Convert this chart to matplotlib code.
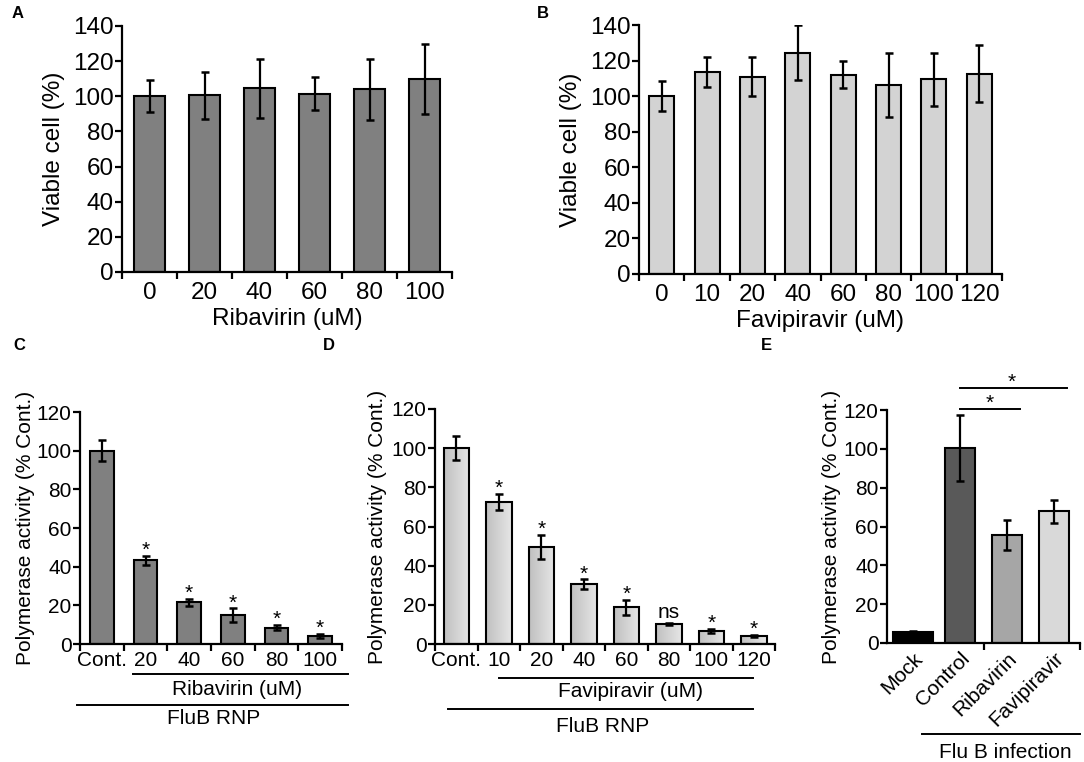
import numpy as np
import matplotlib
matplotlib.use("Agg")
import matplotlib.pyplot as plt
from matplotlib.colors import LinearSegmentedColormap

plt.rcParams['font.family'] = ['Liberation Sans', 'DejaVu Sans']

# Data
rib_conc = ['0', '20', '40', '60', '80', '100']
rib_viab = [100, 100.5, 104.5, 101.5, 104, 110]
rib_viab_err = [9, 13.5, 17, 9.5, 17.5, 20]

fav_conc = ['0', '10', '20', '40', '60', '80', '100', '120']
fav_viab = [100, 113.5, 111, 124.5, 112, 106, 109.5, 112.5]
fav_viab_err = [8.5, 8.5, 11, 15.5, 7.5, 18, 15, 16]

rib_pol_labels = ['Cont.', '20', '40', '60', '80', '100']
rib_pol = [100, 43.3, 21.5, 14.8, 8.5, 4.2]
rib_pol_err = [5.5, 2.2, 1.9, 3.6, 1.3, 0.9]
rib_sig = ['', '*', '*', '*', '*', '*']

fav_pol_labels = ['Cont.', '10', '20', '40', '60', '80', '100', '120']
fav_pol = [100.2, 72.5, 49.7, 30.6, 18.7, 10.4, 6.6, 4.0]
fav_pol_err = [6, 4, 6.2, 2.4, 3.9, 0.5, 1.1, 0.5]
fav_sig = ['', '*', '*', '*', '*', 'ns', '*', '*']

inf_groups = ['Mock', 'Control', 'Ribavirin', 'Favipiravir']
inf_pol = [5.8, 100.2, 55.5, 67.8]
inf_err = [0.5, 17, 7.8, 6]
inf_colors = ['#000000', '#595959', '#a6a6a6', '#d9d9d9']

W, H = 1084, 762
FS_TOP = 17.5
FS_BOT = 15
fig = plt.figure(figsize=(W / 100, H / 100), dpi=100)


def px_axes(left, top, right, bottom):
    return fig.add_axes([left / W, 1 - bottom / H, (right - left) / W, (bottom - top) / H])


def style_axes(ax, n, labels, ymax, ystep, fs, pad=7):
    for s in ['top', 'right']:
        ax.spines[s].set_visible(False)
    for s in ['left', 'bottom']:
        ax.spines[s].set_linewidth(1.6)
    ax.set_xlim(-0.5, n - 0.5)
    ax.set_ylim(0, ymax)
    ax.set_yticks(np.arange(0, ymax + 1, ystep))
    ax.tick_params(axis='y', length=5, width=1.6, pad=1, labelsize=fs)
    # ticks between the bars, labels under the bars
    ax.set_xticks(np.arange(n + 1) - 0.5)
    ax.set_xticklabels([])
    ax.tick_params(axis='x', which='major', length=5, width=1.6)
    ax.set_xticks(np.arange(n), minor=True)
    ax.set_xticklabels(labels, minor=True, fontsize=fs)
    ax.tick_params(axis='x', which='minor', length=0, pad=pad)


def bars(ax, vals, errs, color, width):
    x = np.arange(len(vals))
    b = ax.bar(x, vals, width=width, color=color, edgecolor='black', linewidth=1.5, zorder=2)
    ax.errorbar(x, vals, yerr=errs, fmt='none', ecolor='black', elinewidth=1.6,
                capsize=2.8, capthick=1.8, zorder=3)
    return b


def sig_marks(ax, vals, errs, marks):
    for i, (v, e, m) in enumerate(zip(vals, errs, marks)):
        if not m:
            continue
        if m == '*':
            ax.annotate(m, xy=(i, v + e), xytext=(0, 0), textcoords='offset points',
                        ha='center', va='baseline', fontsize=15)
        else:
            ax.annotate(m, xy=(i, v + e), xytext=(0, 3), textcoords='offset points',
                        ha='center', va='baseline', fontsize=FS_BOT)


def under_line(ax, x0, x1, y):
    ax.plot([x0, x1], [y, y], color='black', lw=1.4, clip_on=False,
            transform=ax.get_xaxis_transform())


# Panel A
axA = px_axes(122, 26, 452, 272)
bars(axA, rib_viab, rib_viab_err, '#808080', 0.56)
style_axes(axA, len(rib_viab), rib_conc, 140, 20, FS_TOP)
axA.set_ylabel('Viable cell (%)', fontsize=FS_TOP, labelpad=6)
axA.set_xlabel('Ribavirin (uM)', fontsize=FS_TOP, labelpad=3)

# Panel B
axB = px_axes(639, 25, 1002, 274)
bars(axB, fav_viab, fav_viab_err, '#d3d3d3', 0.55)
style_axes(axB, len(fav_viab), fav_conc, 140, 20, FS_TOP)
axB.set_ylabel('Viable cell (%)', fontsize=FS_TOP, labelpad=6)
axB.set_xlabel('Favipiravir (uM)', fontsize=FS_TOP, labelpad=3)

# Panel C
axC = px_axes(80, 412, 342, 644)
bars(axC, rib_pol, rib_pol_err, '#808080', 0.54)
sig_marks(axC, rib_pol, rib_pol_err, rib_sig)
style_axes(axC, len(rib_pol), rib_pol_labels, 120, 20, FS_BOT, pad=5)
axC.set_ylabel('Polymerase activity (% Cont.)', fontsize=FS_BOT, labelpad=1)
under_line(axC, 0.71, 5.64, -0.13)
axC.text(3.1, -0.194, 'Ribavirin (uM)', transform=axC.get_xaxis_transform(),
         ha='center', va='center', fontsize=FS_BOT)
under_line(axC, -0.57, 5.64, -0.263)
axC.text(2.55, -0.319, 'FluB RNP', transform=axC.get_xaxis_transform(),
         ha='center', va='center', fontsize=FS_BOT)

# Panel D (gradient bars)
axD = px_axes(435, 409, 775, 644)
bD = bars(axD, fav_pol, fav_pol_err, 'none', 0.6)
grad_cmap = LinearSegmentedColormap.from_list('g', ['#c0c0c0', '#e6e6e6'])
grad = np.linspace(0, 1, 64).reshape(1, -1)
for p in bD.patches:
    x0, y0 = p.get_x(), p.get_y()
    im = axD.imshow(grad, extent=[x0, x0 + p.get_width(), y0, y0 + p.get_height()],
                    cmap=grad_cmap, aspect='auto', zorder=1.5)
    im.set_clip_path(p)
sig_marks(axD, fav_pol, fav_pol_err, fav_sig)
style_axes(axD, len(fav_pol), fav_pol_labels, 120, 20, FS_BOT, pad=5)
axD.set_ylabel('Polymerase activity (% Cont.)', fontsize=FS_BOT, labelpad=3)
under_line(axD, 1.0, 6.98, -0.145)
axD.text(4.09, -0.204, 'Favipiravir (uM)', transform=axD.get_xaxis_transform(),
         ha='center', va='center', fontsize=FS_BOT)
under_line(axD, -0.19, 6.98, -0.277)
axD.text(3.45, -0.349, 'FluB RNP', transform=axD.get_xaxis_transform(),
         ha='center', va='center', fontsize=FS_BOT)

# Panel E
axE = px_axes(887, 410, 1080, 643)
xe = np.arange(len(inf_pol))
axE.bar(xe, inf_pol, width=[0.85, 0.64, 0.64, 0.64], color=inf_colors,
        edgecolor='black', linewidth=1.5, zorder=2)
axE.errorbar(xe, inf_pol, yerr=inf_err, fmt='none', ecolor='black', elinewidth=1.6,
             capsize=2.8, capthick=1.8, zorder=3)
for s in ['top', 'right']:
    axE.spines[s].set_visible(False)
for s in ['left', 'bottom']:
    axE.spines[s].set_linewidth(1.6)
axE.set_xlim(-0.55, 3.55)
axE.set_ylim(0, 120)
axE.set_yticks(np.arange(0, 121, 20))
axE.tick_params(axis='y', length=5, width=1.6, pad=1, labelsize=FS_BOT)
axE.set_xticks([1.5, 3.55])
axE.set_xticklabels([])
axE.tick_params(axis='x', which='major', length=5, width=1.6)
axE.set_xticks(xe, minor=True)
axE.set_xticklabels(inf_groups, minor=True, rotation=45, ha='right', va='top',
                    rotation_mode='anchor', fontsize=FS_BOT)
axE.tick_params(axis='x', which='minor', length=0, pad=4)
axE.set_ylabel('Polymerase activity (% Cont.)', fontsize=FS_BOT, labelpad=2)
axE.plot([1, 2.28], [120.5, 120.5], color='black', lw=1.4, clip_on=False)
axE.text(1.64, 120.5, '*', ha='center', va='baseline', fontsize=15)
axE.plot([1, 3.28], [131.3, 131.3], color='black', lw=1.4, clip_on=False)
axE.text(2.1, 131.3, '*', ha='center', va='baseline', fontsize=15)
under_line(axE, 0.19, 3.55, -0.39)
axE.text(1.96, -0.468, 'Flu B infection', transform=axE.get_xaxis_transform(),
         ha='center', va='center', fontsize=FS_BOT)

# Panel letters
for lab, (x, y) in {'A': (18, 14), 'B': (543, 14), 'C': (19, 345),
                    'D': (329, 345), 'E': (766, 345)}.items():
    fig.text(x / W, 1 - y / H, lab, fontsize=12, fontweight='bold', ha='center', va='center')

fig.savefig('out.png', dpi=100)
